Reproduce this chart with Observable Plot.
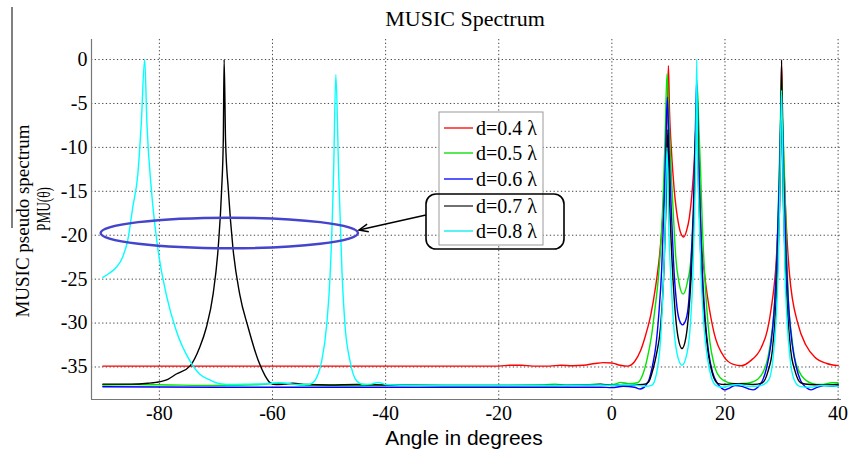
<!DOCTYPE html>
<html><head><meta charset="utf-8">
<script src="https://cdn.jsdelivr.net/npm/d3@7"></script>
<script src="https://cdn.jsdelivr.net/npm/@observablehq/plot@0.6"></script>
<style>body{margin:0;background:#fff} #chart{width:850px;height:453px}
#chart svg text{font-family:'Liberation Serif','Times New Roman',serif}
#chart svg text.sans{font-family:'Liberation Sans',Arial,sans-serif}</style>
</head><body><div id="chart"></div>
<script>
// ---- data ----
const angleTicks = [-80, -60, -40, -20, 0, 20, 40];
const levelTicks = [0, -5, -10, -15, -20, -25, -30, -35];
const seriesNames = ["d=0.4 λ", "d=0.5 λ", "d=0.6 λ", "d=0.7 λ", "d=0.8 λ"];
const seriesColors = ["#ff0000", "#00e600", "#0000ff", "#000000", "#00ffff"];
const legendColors = ["#ff2020", "#20e020", "#2020ff", "#404040", "#20f0f0"];

// [angle in degrees, PMU(θ) in dB]
const d04 = [[-90,-34.9],[-60,-34.9],[-40,-34.9],[-20,-34.9],[-18,-34.8],[-16,-34.8],[-14,-34.9],[-11,-34.9],[-9,-34.8],[-7,-34.85],[-5,-34.8],[-3,-34.6],[-1.5,-34.5],[0,-34.55],[1.5,-34.8],[2.8,-34.9],[4,-34.4],[5.1,-33.1],[6,-31.3],[6.9,-29.0],[7.7,-26],[8.4,-22.5],[9,-18],[9.3,-14.9],[9.6,-10],[9.8,-6],[10,-0.7],[10.2,-6],[10.5,-10],[10.8,-13.0],[11.2,-16],[11.6,-18.0],[12.1,-19.6],[12.7,-20.2],[13.2,-19.5],[13.7,-18.0],[14.2,-15],[14.6,-11.1],[14.85,-7.5],[15,-4],[15.2,-8],[15.5,-14],[15.8,-20.6],[16.4,-24.5],[17.0,-27.4],[18.1,-31.2],[19.9,-33.9],[21.5,-34.7],[22.9,-34.85],[24.5,-34.3],[26.4,-32.8],[27.5,-30.8],[28.2,-28.2],[29.1,-22.5],[29.5,-17],[29.7,-13.0],[29.9,-6],[30,-0.3],[30.2,-7],[30.7,-16.8],[31.4,-24.4],[32.9,-30.1],[34.3,-32.5],[35.9,-33.9],[38,-34.6],[40,-34.85]];
const d05 = [[-90,-37.05],[-84,-37.0],[-78,-37.05],[-70,-37.1],[-62,-37.0],[-59,-36.85],[-57,-36.9],[-55,-37.05],[-50,-37.1],[-45,-37.1],[-40,-37.05],[-30,-37.1],[-20,-37.1],[-12,-37.05],[-10,-36.95],[-8,-37.1],[-5,-37.05],[-3,-36.95],[-1,-37.05],[0.5,-36.95],[1.6,-36.75],[3,-36.9],[4.5,-36.8],[5.5,-35.8],[6.3,-33.9],[7.0,-31.5],[7.5,-29.0],[8.2,-25],[8.7,-20.6],[9.1,-15],[9.4,-9.2],[9.75,-1.6],[10.1,-7],[10.5,-13.0],[10.9,-18],[11.3,-22.5],[11.9,-25.5],[12.6,-26.7],[13.3,-25.5],[14.0,-22.5],[14.4,-18],[14.7,-13.0],[14.9,-8],[15.1,-3.0],[15.4,-8],[15.7,-13.0],[16.0,-19],[16.4,-24.4],[16.8,-28.5],[17.3,-32.0],[18.0,-34.5],[18.7,-35.8],[20.5,-36.75],[22,-36.9],[24,-36.85],[25.8,-36.4],[26.8,-35.5],[27.6,-33.9],[28.3,-31],[28.8,-27.4],[29.2,-22],[29.5,-14.9],[29.8,-7],[30,-2],[30.2,-7],[30.6,-14.9],[30.9,-22],[31.2,-27.4],[31.7,-31],[32.3,-33.9],[33.1,-35.5],[34.1,-36.4],[35.5,-36.9],[37,-37.0],[39,-36.8],[40,-36.8]];
const d06 = [[-90,-37.25],[-70,-37.3],[-50,-37.3],[-30,-37.3],[-10,-37.3],[-2,-37.3],[0,-37.35],[2,-37.2],[4,-37.3],[5,-37.5],[6,-37.1],[6.6,-36.4],[7.2,-34.8],[7.8,-32.5],[8.3,-29],[8.8,-24],[9.2,-17],[9.5,-11],[9.8,-4.3],[10.15,-11],[10.5,-17],[10.9,-23],[11.4,-27.5],[11.9,-29.6],[12.5,-30.2],[13.1,-29.6],[13.6,-27.5],[14.0,-23],[14.4,-17],[14.7,-10],[15,-2.3],[15.3,-10],[15.6,-17],[16.0,-24],[16.5,-29.5],[17.1,-33.3],[17.8,-35.6],[18.6,-36.8],[19.4,-37.4],[20,-37.6],[20.8,-37.4],[21.8,-37.1],[23,-37.2],[24.2,-37.5],[25,-37.6],[25.8,-37.3],[26.6,-36.6],[27.4,-35],[28.1,-32.5],[28.7,-28.5],[29.2,-22],[29.6,-14],[30,-4],[30.4,-14],[30.8,-22],[31.3,-28.5],[31.9,-32.5],[32.6,-35],[33.4,-36.6],[34.3,-37.3],[35.2,-37.6],[36,-37.4],[37.5,-37.1],[39,-37.2],[40,-37.1]];
const d07 = [[-90,-36.95],[-85,-36.95],[-82,-36.85],[-80.6,-36.75],[-78.5,-36.4],[-77,-35.8],[-74.6,-34.9],[-72.9,-32.8],[-71.7,-30.5],[-70.5,-26.7],[-69.6,-21.4],[-69.0,-14.9],[-68.7,-9.2],[-68.55,0],[-68.3,-9.2],[-67.8,-14.9],[-67.0,-21.4],[-65.8,-26.7],[-64.3,-30.5],[-62.5,-34.3],[-61.3,-36.0],[-60.5,-36.75],[-59.5,-37.0],[-58,-36.95],[-56.4,-36.85],[-54,-37.0],[-50,-37.05],[-45,-37.0],[-40,-37.05],[-30,-37.1],[-20,-37.1],[-10,-37.1],[-4,-37.05],[-2,-36.95],[0,-37.1],[2,-37.0],[4,-37.05],[5.5,-37.0],[6.5,-36.7],[7.3,-35.2],[7.9,-33.5],[8.6,-30.5],[9.2,-24],[9.6,-16],[9.9,-8],[10.2,-16],[10.5,-21],[11.0,-27],[11.7,-31.6],[12.4,-32.9],[13.1,-31.6],[13.8,-27],[14.3,-21],[14.6,-15],[15,-4.5],[15.35,-15],[15.7,-22],[16.1,-27],[16.9,-32.8],[17.8,-35.8],[18.8,-36.9],[20,-37.0],[21.5,-36.9],[23,-36.9],[25,-37.0],[26.6,-36.8],[27.6,-35.5],[28.4,-33],[29.0,-28],[29.5,-20],[29.8,-12],[30,0],[30.2,-12],[30.5,-20],[31.0,-28],[31.6,-33],[32.4,-35.5],[33.4,-36.8],[35,-37.0],[37,-37.05],[40,-37.0]];
const d08 = [[-90.0,-24.8],[-88.8,-24.3],[-87.6,-23.65],[-86.5,-22.5],[-85.6,-20.6],[-84.7,-16.8],[-83.8,-13.0],[-83.2,-7.3],[-82.6,0],[-82.2,-7.3],[-81.4,-14.9],[-80.3,-21.4],[-78.8,-26.7],[-77.0,-30.9],[-74.6,-34.3],[-72.9,-35.8],[-71,-36.5],[-69.3,-36.9],[-67,-37.0],[-64,-36.95],[-61,-36.9],[-59,-36.8],[-57.5,-36.85],[-55.5,-37.0],[-53.7,-37.0],[-52.8,-36.75],[-51.3,-34.3],[-50.4,-30.1],[-49.8,-24.4],[-49.2,-13.0],[-48.8,-1.7],[-48.3,-13.0],[-47.7,-24.4],[-47.2,-30.1],[-46.3,-34.3],[-45.1,-36.6],[-43.9,-37.0],[-42.5,-36.95],[-41.3,-36.75],[-40,-37.0],[-35,-37.1],[-30,-37.1],[-25,-37.1],[-20,-37.1],[-10,-37.1],[-2,-37.05],[0,-37.1],[2,-37.0],[4,-37.05],[6,-37.2],[7,-37.1],[7.6,-36.5],[8.1,-35],[8.6,-32],[9.0,-27],[9.4,-20],[9.75,-10],[10.1,-20],[10.5,-25.5],[10.9,-30],[11.5,-33.4],[12.4,-34.8],[13.3,-33.4],[13.9,-30],[14.3,-25],[14.6,-18],[14.85,-10],[15,0],[15.15,-10],[15.45,-18],[15.8,-25],[16.3,-30.5],[16.9,-34],[17.6,-36.2],[18.4,-37.1],[19.5,-37.3],[21,-37.1],[22.5,-37.0],[24,-37.2],[25.5,-37.2],[26.8,-37.0],[27.8,-36.4],[28.5,-34],[29.0,-30],[29.4,-24],[29.7,-15],[30,-3.5],[30.3,-15],[30.6,-24],[31.0,-30],[31.5,-34],[32.2,-36.4],[33.2,-37.2],[35,-37.3],[37,-37.1],[40,-37.2]];
const seriesData = [d04, d05, d06, d07, d08];

// annotation ellipse (data units): center angle, center level, half-width, half-height
const ellipseSpec = {angle: -67.55, level: -19.8, rAngle: 22.75, rLevel: 1.74};

const rows = [];
seriesData.forEach((arr, i) => arr.forEach(([a, v]) => rows.push({angle: a, level: v, series: seriesNames[i]})));

const xDomain = [-92, 40.6];
const yDomain = [-38.7, 2.28];
const serif = "'Liberation Serif', 'Times New Roman', serif";
const sans = "'Liberation Sans', Arial, sans-serif";

const chart = Plot.plot({
  width: 850, height: 453,
  marginTop: 39, marginBottom: 54, marginLeft: 91, marginRight: 9,
  x: {domain: xDomain},
  y: {domain: yDomain},
  color: {domain: seriesNames, range: seriesColors},
  style: {fontFamily: serif, fontSize: "20px", background: "#fff", color: "#000"},
  marks: [
    Plot.gridX(angleTicks, {stroke: "#333", strokeOpacity: 0.9, strokeDasharray: "1.3,2.4", strokeWidth: 1}),
    Plot.gridY(levelTicks, {stroke: "#333", strokeOpacity: 0.9, strokeDasharray: "1.3,2.4", strokeWidth: 1}),
    Plot.ruleX([xDomain[0]], {stroke: "#777", strokeWidth: 1.2}),
    Plot.ruleY([yDomain[0]], {stroke: "#777", strokeWidth: 1.2}),
    Plot.line(rows, {x: "angle", y: "level", z: "series", stroke: "series", curve: "monotone-x", strokeWidth: 1.4}),
    Plot.axisX(angleTicks, {tickSize: 0, tickPadding: 6, label: null, fontFamily: serif, fontSize: 20, tickFormat: d => String(d)}),
    Plot.axisY(levelTicks, {tickSize: 0, tickPadding: 4, label: null, fontFamily: serif, fontSize: 20, tickFormat: d => String(d)})
  ]
});
document.getElementById("chart").appendChild(chart);

const svg = d3.select(chart);
svg.selectAll("text").style("font-family", serif).attr("font-family", serif);
const sx = chart.scale("x"), sy = chart.scale("y");

function addText(x, y, txt, font, size, anchor, rot) {
  return svg.append("text")
    .attr("class", font === sans ? "sans" : "serif")
    .attr("transform", `translate(${x},${y})` + (rot ? ` rotate(${rot})` : ""))
    .attr("text-anchor", anchor).attr("dominant-baseline", "central")
    .attr("font-family", font).attr("font-size", size).style("font-family", font).style("font-size", size + "px")
    .attr("fill", "#000").text(txt);
}
// title
addText(465, 18, "MUSIC Spectrum", serif, 22, "middle");
// x label
addText(464, 437, "Angle in degrees", sans, 21, "middle");
// y label (two lines)
addText(22, 221, "MUSIC pseudo spectrum", serif, 19, "middle", -90);
addText(44, 209, "PMU(θ)", serif, 18, "middle", -90).attr("textLength", 44).attr("lengthAdjust", "spacingAndGlyphs");
svg.append("line").attr("x1", 12).attr("x2", 12).attr("y1", 7).attr("y2", 228).attr("stroke", "#000").attr("stroke-width", 1);

// annotation ellipse
const ecx = sx.apply(ellipseSpec.angle), ecy = sy.apply(ellipseSpec.level);
const erx = Math.abs(sx.apply(ellipseSpec.angle + ellipseSpec.rAngle) - ecx);
const ery = Math.abs(sy.apply(ellipseSpec.level + ellipseSpec.rLevel) - ecy);
svg.append("ellipse").attr("cx", ecx).attr("cy", ecy).attr("rx", erx).attr("ry", ery)
  .attr("fill", "none").attr("stroke", "#4444cc").attr("stroke-width", 2.4);

// legend
const rowY = [128, 153, 179, 206, 231];
svg.append("rect").attr("x", 439).attr("y", 112).attr("width", 104).attr("height", 133)
  .attr("fill", "#fff").attr("stroke", "#999").attr("stroke-width", 1);
seriesNames.forEach((name, i) => {
  svg.append("line").attr("x1", 444).attr("x2", 473).attr("y1", rowY[i]).attr("y2", rowY[i])
    .attr("stroke", legendColors[i]).attr("stroke-width", 1.5);
  addText(476, rowY[i], name, serif, 20, "start");
});
// rounded callout box
svg.append("rect").attr("x", 426).attr("y", 194).attr("width", 138).attr("height", 55).attr("rx", 10)
  .attr("fill", "none").attr("stroke", "#000").attr("stroke-width", 1.6);
// arrow
const ax1 = 426, ay1 = 215, ax2 = ecx + erx + 1, ay2 = 230;
svg.append("line").attr("x1", ax1).attr("y1", ay1).attr("x2", ax2).attr("y2", ay2).attr("stroke", "#000").attr("stroke-width", 1.5);
const ang = Math.atan2(ay1 - ay2, ax1 - ax2), hl = 10;
svg.append("path").attr("d",
  `M${ax2 + hl * Math.cos(ang - 0.4)},${ay2 + hl * Math.sin(ang - 0.4)} L${ax2},${ay2} L${ax2 + hl * Math.cos(ang + 0.4)},${ay2 + hl * Math.sin(ang + 0.4)}`)
  .attr("fill", "none").attr("stroke", "#000").attr("stroke-width", 1.5);
</script>
</body></html>
